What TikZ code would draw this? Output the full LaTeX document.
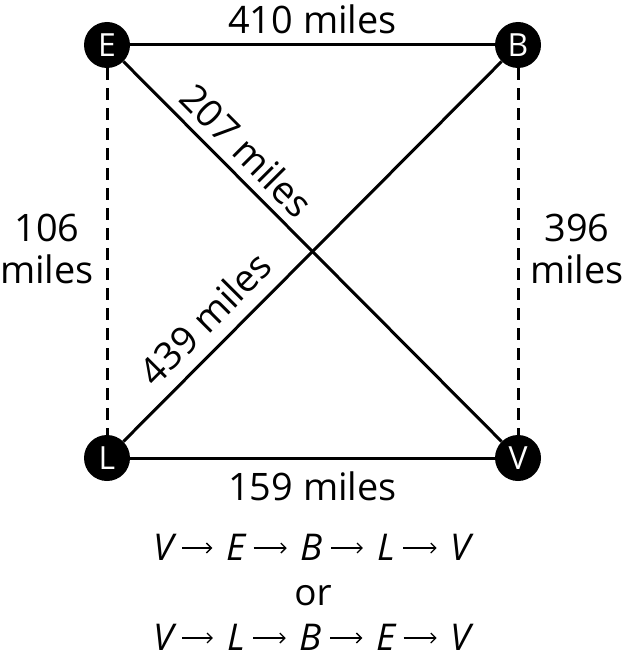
\documentclass[tikz,border=0pt]{standalone}
\usepackage{fontspec}
\setmainfont{Open Sans}
\usetikzlibrary{arrows.meta}
\tikzset{
  city/.style={circle, fill=black, text=white, inner sep=0pt, minimum size=46bp, font=\fontsize{32}{32}\selectfont},
  road/.style={line width=3bp},
  sideroad/.style={line width=3bp, dash pattern=on 12bp off 8bp},
  dist/.style={font=\fontsize{38}{42}\selectfont, inner sep=2bp, align=center},
  route/.style={font=\fontsize{37}{40}\selectfont\itshape, inner sep=0pt, text height=24bp, text depth=0pt, anchor=base},
  leg/.style={line width=1.3bp, -{Straight Barb[length=5bp, width=10bp]}, shorten <=8bp, shorten >=14bp},
}
\begin{document}
\begin{tikzpicture}[x=1bp, y=-1bp]
    \useasboundingbox (0,0) rectangle (625,667);
    % Draw cities
    \node [city] (e) at (107,45) {E};
    \node [city] (b) at (518,45) {B};
    \node [city] (l) at (107,458) {L};
    \node [city] (v) at (518,458) {V};

    % Draw roads
    \draw [road] (e) -- node [dist, above=8bp] (leb) {410 miles} (b);
    \draw [road] (l) -- node [dist, below=10bp] (llv) {159 miles} (v);
    \draw [road] (e) -- node [dist, sloped, above=7bp, pos=0.28] (lev) {207 miles} (v);
    \draw [road] (l) -- node [dist, sloped, above=11bp, pos=0.27] (llb) {439 miles} (b);
    \draw [sideroad] (e) -- (l);
    \draw [sideroad] (b) -- (v);
    \node [dist] (lel) at (47,249) {106\\miles};
    \node [dist] (lbv) at (577,249) {396\\miles};

    % First route
    \node [route] (ra1) at (164,560) {V};
    \node [route] (ra2) at (236,560) {E};
    \node [route] (ra3) at (312,560) {B};
    \node [route] (ra4) at (386,560) {L};
    \node [route] (ra5) at (461,560) {V};
    \draw [leg] (ra1) -- (ra2);
    \draw [leg] (ra2) -- (ra3);
    \draw [leg] (ra3) -- (ra4);
    \draw [leg] (ra4) -- (ra5);

    \node [route, font=\fontsize{37}{40}\selectfont] (ror) at (313,605) {or};

    % Second route
    \node [route] (rb1) at (164,650) {V};
    \node [route] (rb2) at (236,650) {L};
    \node [route] (rb3) at (311,650) {B};
    \node [route] (rb4) at (386,650) {E};
    \node [route] (rb5) at (461,650) {V};
    \draw [leg] (rb1) -- (rb2);
    \draw [leg] (rb2) -- (rb3);
    \draw [leg] (rb3) -- (rb4);
    \draw [leg] (rb4) -- (rb5);
\end{tikzpicture}
\end{document}
